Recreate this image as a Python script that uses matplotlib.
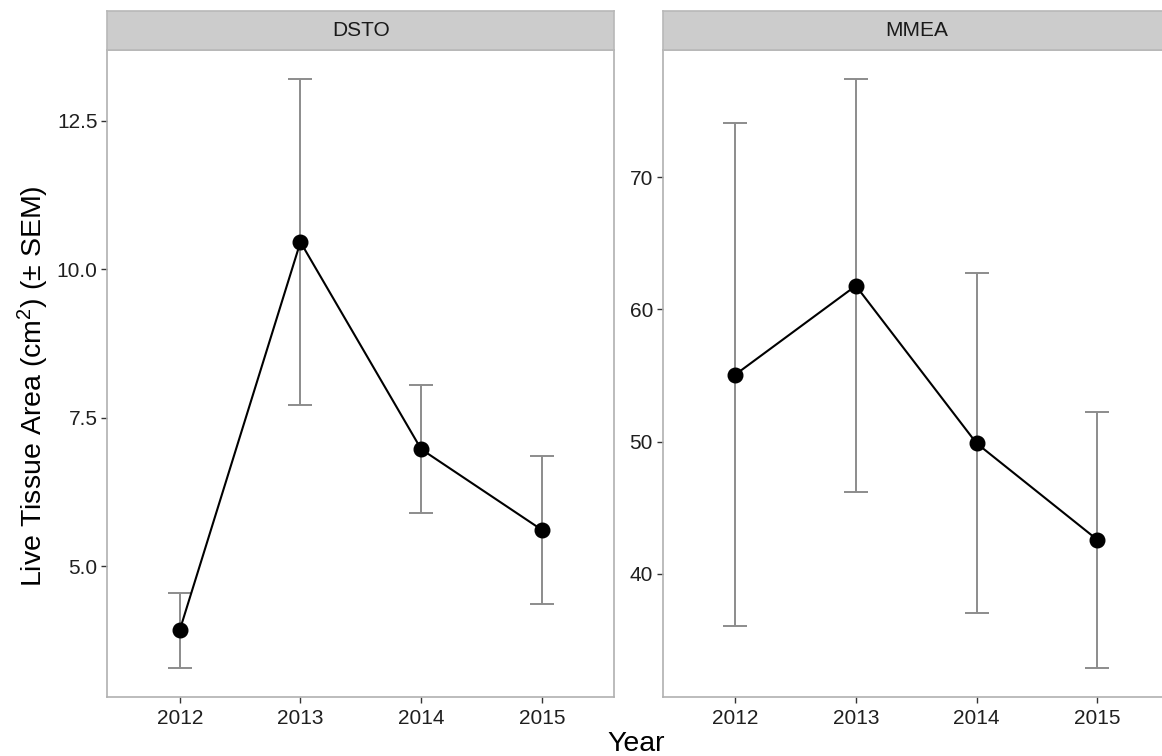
import matplotlib
matplotlib.use("Agg")
import matplotlib.pyplot as plt
import numpy as np

plt.rcParams['font.family'] = ['Liberation Sans', 'DejaVu Sans']
plt.rcParams['mathtext.fontset'] = 'custom'
plt.rcParams['mathtext.rm'] = 'Liberation Sans'
plt.rcParams['mathtext.it'] = 'Liberation Sans:italic'
plt.rcParams['mathtext.default'] = 'regular'

years = ["2012", "2013", "2014", "2015"]
panels = ["DSTO", "MMEA"]
dsto_mean = [3.92, 10.46, 6.97, 5.61]
dsto_sem = [0.63, 2.74, 1.08, 1.25]
mmea_mean = [55.05, 61.78, 49.87, 42.58]
mmea_sem = [19.0, 15.6, 12.84, 9.67]
dsto_ticks = [5.0, 7.5, 10.0, 12.5]
mmea_ticks = [40, 50, 60, 70]

W, H = 1162, 756
fig = plt.figure(figsize=(W / 100, H / 100), dpi=100)

border_col = '#b0b0b0'
text_col = '#1f1f1f'

panel_specs = [
    (107.3, dsto_mean, dsto_sem, dsto_ticks, "{:.1f}"),
    (662.7, mmea_mean, mmea_sem, mmea_ticks, "{:.0f}"),
]
pw = 507.0
top, bottom = 50.0, 697.0
strip_top = 11.0

for name, (x0, mean, sem, ticks, fmt) in zip(panels, panel_specs):
    ax = fig.add_axes([x0 / W, (H - bottom) / H, pw / W, (bottom - top) / H])
    xs = np.arange(len(years))
    m = np.array(mean)
    s = np.array(sem)
    ax.errorbar(xs, m, yerr=s, fmt='none', ecolor='#8c8c8c', elinewidth=1.4,
                capsize=8.7, capthick=1.4, zorder=2)
    ax.plot(xs, m, color='black', lw=1.5, zorder=3)
    ax.plot(xs, m, 'o', color='black', ms=10.5, zorder=4)
    lo = (m - s).min()
    hi = (m + s).max()
    r = hi - lo
    ax.set_ylim(lo - 0.05 * r, hi + 0.05 * r)
    ax.set_xlim(-0.6, len(years) - 1 + 0.6)
    ax.set_xticks(xs)
    ax.set_xticklabels(years)
    ax.set_yticks(ticks)
    ax.set_yticklabels([fmt.format(t) for t in ticks])
    ax.tick_params(axis='both', labelsize=15, colors='#333333', labelcolor=text_col,
                   length=4, width=1.0, pad=3)
    ax.tick_params(axis='x', pad=4.5)
    for sp in ax.spines.values():
        sp.set_color(border_col)
        sp.set_linewidth(1.2)
    # strip
    sax = fig.add_axes([x0 / W, (H - top) / H, pw / W, (top - strip_top) / H])
    sax.set_xticks([])
    sax.set_yticks([])
    sax.set_facecolor('#cccccc')
    for sp in sax.spines.values():
        sp.set_color('#b8b8b8')
        sp.set_linewidth(1.2)
    sax.text(0.5, 0.5, name, ha='center', va='center', fontsize=15,
             color='#1a1a1a', transform=sax.transAxes)

fig.text(636 / W, 1 - 744 / H, "Year", ha='center', va='center', fontsize=20.5,
         color='black')
fig.text(33 / W, 1 - 386 / H, "Live Tissue Area (cm$^2$) (± SEM)", ha='center',
         va='center', rotation=90, fontsize=20.5, color='black')

fig.savefig("out.png", dpi=100)
